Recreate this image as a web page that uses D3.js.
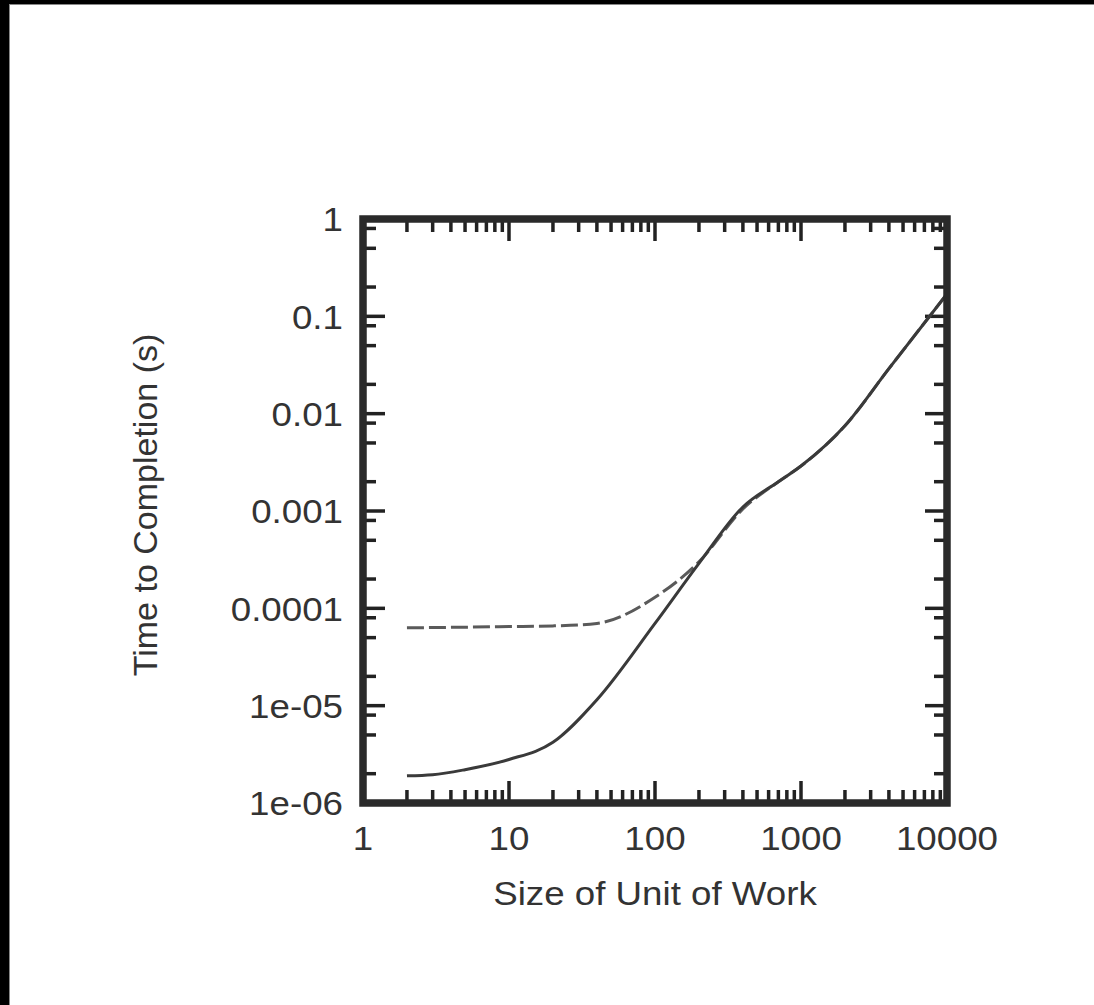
<!DOCTYPE html>
<html>
<head>
<meta charset="utf-8">
<script src="https://cdn.jsdelivr.net/npm/d3@7"></script>
<style>
  html, body { margin: 0; padding: 0; background: #fff; }
  svg { display: block; }
  text { font-family: Arial, "Liberation Sans", Helvetica, sans-serif; fill: #333; }
</style>
</head>
<body>
<script>
// ---- data ----
const xValues      = [2, 3, 5, 10, 20, 40, 100, 200, 400, 700, 1000, 2000, 4000, 10000];
const solidValues  = [1.9e-6, 1.95e-6, 2.2e-6, 2.8e-6, 4.2e-6, 1.15e-5, 7e-5, 2.9e-4, 1.1e-3, 2.0e-3, 2.9e-3, 7.5e-3, 0.029, 0.17];
const dashedValues = [6.3e-5, 6.35e-5, 6.4e-5, 6.5e-5, 6.6e-5, 7.0e-5, 1.3e-4, 3.0e-4, 1.05e-3, 2.0e-3, 2.9e-3, 7.5e-3, 0.029, 0.17];
const xTickValues  = [1, 10, 100, 1000, 10000];
const xTickLabels  = ["1", "10", "100", "1000", "10000"];
const yTickValues  = [1e-6, 1e-5, 1e-4, 1e-3, 1e-2, 1e-1, 1];
const yTickLabels  = ["1e-06", "1e-05", "0.0001", "0.001", "0.01", "0.1", "1"];
const xMinorMult   = [2, 3, 4, 5, 6, 7, 8, 9];
const yMinorMult   = [2, 5, 8];
const xTitle = "Size of Unit of Work";
const yTitle = "Time to Completion (s)";

// ---- layout ----
const W = 1094, H = 1005;
const L = 363, R = 947, T = 219, B = 803;
const svg = d3.select("body").append("svg").attr("width", W).attr("height", H);

svg.append("rect").attr("x", 0).attr("y", 0).attr("width", W).attr("height", 4).attr("fill", "#000");
svg.append("rect").attr("x", 0).attr("y", 0).attr("width", 9).attr("height", H).attr("fill", "#000");
svg.append("line").attr("x1", 9.5).attr("x2", 9.5).attr("y1", 4).attr("y2", H).attr("stroke", "#888").attr("stroke-width", 1);
svg.append("line").attr("x1", 9).attr("x2", W).attr("y1", 4.5).attr("y2", 4.5).attr("stroke", "#888").attr("stroke-width", 1);

const x = d3.scaleLog().domain([1, 10000]).range([L, R]);
const y = d3.scaleLog().domain([1e-6, 1]).range([B, T]);

const xMinor = [];
for (let d = 1; d < 10000; d *= 10) xMinorMult.forEach(m => xMinor.push(d * m));
const yMinor = [];
for (let d = 1e-6; d < 0.99; d *= 10) yMinorMult.forEach(m => yMinor.push(d * m));

const tickG = svg.append("g").attr("stroke", "#222").attr("stroke-width", 3.5);
const majLen = 22, minLen = 13;
xTickValues.forEach(v => {
  tickG.append("line").attr("x1", x(v)).attr("x2", x(v)).attr("y1", B).attr("y2", B - majLen);
  tickG.append("line").attr("x1", x(v)).attr("x2", x(v)).attr("y1", T).attr("y2", T + majLen);
});
xMinor.forEach(v => {
  tickG.append("line").attr("x1", x(v)).attr("x2", x(v)).attr("y1", B).attr("y2", B - minLen);
  tickG.append("line").attr("x1", x(v)).attr("x2", x(v)).attr("y1", T).attr("y2", T + minLen);
});
yTickValues.forEach(v => {
  tickG.append("line").attr("y1", y(v)).attr("y2", y(v)).attr("x1", L).attr("x2", L + majLen);
  tickG.append("line").attr("y1", y(v)).attr("y2", y(v)).attr("x1", R).attr("x2", R - majLen);
});
yMinor.forEach(v => {
  tickG.append("line").attr("y1", y(v)).attr("y2", y(v)).attr("x1", L).attr("x2", L + minLen);
  tickG.append("line").attr("y1", y(v)).attr("y2", y(v)).attr("x1", R).attr("x2", R - minLen);
});

const pts = (vals) => xValues.map((xv, i) => [xv, vals[i]]);
const line = d3.line().x(d => x(d[0])).y(d => y(d[1])).curve(d3.curveMonotoneX);
svg.append("path").attr("d", line(pts(dashedValues)))
  .attr("fill", "none").attr("stroke", "#5a5a5a").attr("stroke-width", 3)
  .attr("stroke-dasharray", "17,5");
svg.append("path").attr("d", line(pts(solidValues)))
  .attr("fill", "none").attr("stroke", "#3a3a3a").attr("stroke-width", 3);

svg.append("rect").attr("x", L).attr("y", T).attr("width", R - L).attr("height", B - T)
  .attr("fill", "none").attr("stroke", "#2a2a2a").attr("stroke-width", 7.5);

const fs = 34, sx = 1.08;
xTickValues.forEach((v, i) => {
  svg.append("text").attr("transform", `translate(${x(v)},850) scale(${sx},1)`)
    .attr("text-anchor", "middle").attr("font-size", fs).text(xTickLabels[i]);
});
yTickValues.forEach((v, i) => {
  svg.append("text").attr("transform", `translate(343,${y(v)}) scale(${sx},1)`)
    .attr("dy", "0.36em").attr("text-anchor", "end")
    .attr("font-size", fs).text(yTickLabels[i]);
});

svg.append("text").attr("transform", `translate(${(L + R) / 2},905) scale(${sx},1)`)
  .attr("text-anchor", "middle").attr("font-size", fs).text(xTitle);
svg.append("text").attr("transform", `translate(157,${(T + B) / 2 - 6}) rotate(-90)`)
  .attr("text-anchor", "middle").attr("font-size", fs).text(yTitle);
</script>
</body>
</html>
